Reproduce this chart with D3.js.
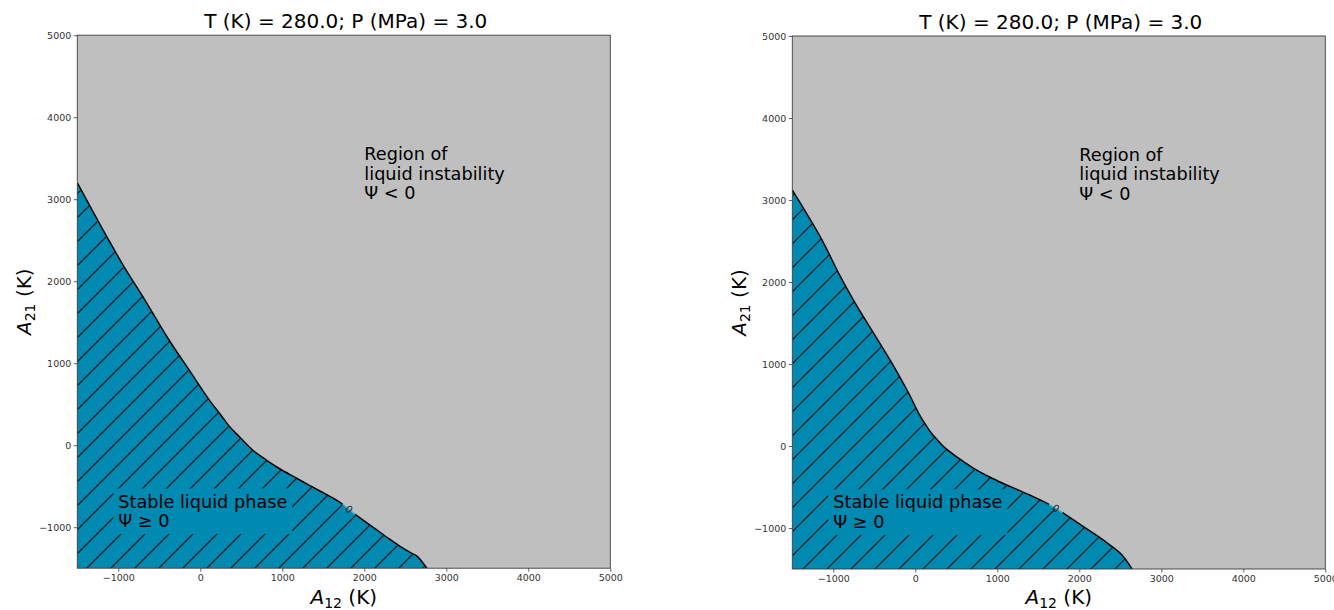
<!DOCTYPE html>
<html>
<head>
<meta charset="utf-8">
<script src="https://cdn.jsdelivr.net/npm/d3@7"></script>
<style>
  html, body { margin: 0; padding: 0; background: #fff; }
  svg { display: block; font-family: "DejaVu Sans", sans-serif; }
</style>
</head>
<body>
<svg id="chart" width="1334" height="610"></svg>
<script>
// Axis limits and ticks (K)
const xDomain = [-1500, 5000];
const yDomain = [-1500, 5000];
const xTicks = [-1000, 0, 1000, 2000, 3000, 4000, 5000];
const yTicks = [-1000, 0, 1000, 2000, 3000, 4000, 5000];

const titleText = "T (K) = 280.0; P (MPa) = 3.0";
const regionLines = ["Region of", "liquid instability", "Ψ < 0"];
const stableLines = ["Stable liquid phase", "Ψ ≥ 0"];
const regionAnchor = [2000, 3000];
const stableAnchor = [-1000, -1000];
const contourLevel = "0";

// Ψ = 0 boundary, left panel
const leftA12 = [-1500, -1300, -1150, -930, -700, -380, -135, 110, 250, 360, 445, 640, 800, 963, 1150, 1330, 1520, 1704, 1887, 2108, 2300, 2435, 2580, 2645, 2762];
const leftA21 = [3200, 2830, 2560, 2175, 1810, 1280, 915, 550, 368, 222, 135, -62, -178, -284, -390, -490, -592, -696, -842, -1001, -1140, -1233, -1318, -1355, -1500];
const leftLabelAt = [1830, -765];

// Ψ = 0 boundary, right panel
const rightA12 = [-1500, -1138, -935, -732, -508, -284, -81, 41, 101, 175, 244, 345, 500, 711, 930, 1159, 1400, 1606, 1809, 2000, 2174, 2350, 2520, 2642];
const rightA21 = [3120, 2512, 2106, 1740, 1374, 1008, 643, 399, 296, 185, 100, -8, -130, -272, -390, -496, -600, -699, -821, -950, -1065, -1190, -1329, -1500];
const rightLabelAt = [1716, -752];

const stableColor = "#0089b1";
const unstableColor = "#bfbfbf";

const svg = d3.select("#chart");
const defs = svg.append("defs");

const panels = [
  { a12: leftA12, a21: leftA21, labelAt: leftLabelAt, x0: 77.3, y0: 35.2, size: 533, phase: 7, ylabX: 31 },
  { a12: rightA12, a21: rightA21, labelAt: rightLabelAt, x0: 792.3, y0: 36, size: 533, phase: 4, ylabX: 746 }
];

const spineColor = "#3a3a3a";
const tickText = "#333";

panels.forEach((p, i) => {
  const x = d3.scaleLinear().domain(xDomain).range([p.x0, p.x0 + p.size]);
  const y = d3.scaleLinear().domain(yDomain).range([p.y0 + p.size, p.y0]);

  defs.append("clipPath").attr("id", "clip" + i)
    .append("rect")
    .attr("x", x(xDomain[0])).attr("y", y(yDomain[1]))
    .attr("width", x(xDomain[1]) - x(xDomain[0]))
    .attr("height", y(yDomain[0]) - y(yDomain[1]));

  // diagonal '/' hatch
  const pat = defs.append("pattern").attr("id", "hatch" + i)
    .attr("patternUnits", "userSpaceOnUse")
    .attr("width", 24).attr("height", 24)
    .attr("patternTransform", `translate(${p.phase},0)`);
  pat.append("path")
    .attr("d", "M-1,25 L25,-1 M-1,1 L1,-1 M23,25 L25,23")
    .attr("stroke", "#0d0d0d").attr("stroke-width", 1.1).attr("fill", "none");

  const g = svg.append("g").attr("clip-path", `url(#clip${i})`);

  // unstable background
  g.append("rect")
    .attr("x", x(xDomain[0])).attr("y", y(yDomain[1]))
    .attr("width", x(xDomain[1]) - x(xDomain[0]))
    .attr("height", y(yDomain[0]) - y(yDomain[1]))
    .attr("fill", unstableColor);

  const pts = p.a12.map((v, k) => [v, p.a21[k]]);
  const line = d3.line().x(d => x(d[0])).y(d => y(d[1])).curve(d3.curveCatmullRom.alpha(0.5));
  const regionPath = line(pts) + `L${x(xDomain[0])},${y(yDomain[0])}Z`;

  g.append("path").attr("d", regionPath).attr("fill", stableColor);
  g.append("path").attr("d", regionPath).attr("fill", `url(#hatch${i})`);

  // stable-phase annotation with a box in the fill colour
  const stable = g.append("g");
  const sx = x(stableAnchor[0]), sy = y(stableAnchor[1]);
  const lh = 19.7;
  const stxt = stable.append("text")
    .attr("font-size", 17.7).attr("fill", "#000");
  stableLines.forEach((s, k) => {
    stxt.append("tspan").attr("x", sx).attr("y", sy - (stableLines.length - 1 - k) * lh).text(s);
  });
  const bb = stxt.node().getBBox();
  stable.insert("rect", "text")
    .attr("x", bb.x - 5).attr("y", bb.y - 3)
    .attr("width", bb.width + 10).attr("height", bb.height + 6)
    .attr("fill", stableColor);

  // contour line with an inline level label
  g.append("path").attr("d", line(pts))
    .attr("fill", "none").attr("stroke", "#49b3cc").attr("stroke-width", 1.4);
  const cl = g.append("path").attr("d", line(pts))
    .attr("fill", "none").attr("stroke", "#000").attr("stroke-width", 1.5);
  const node = cl.node();
  const total = node.getTotalLength();
  const lx = x(p.labelAt[0]), ly = y(p.labelAt[1]);
  let best = 0, bestD = Infinity;
  for (let s = 0; s <= total; s += 0.5) {
    const q = node.getPointAtLength(s);
    const d = (q.x - lx) ** 2 + (q.y - ly) ** 2;
    if (d < bestD) { bestD = d; best = s; }
  }
  const gap = 16;
  cl.attr("stroke-dasharray", `${best - gap / 2} ${gap} ${total}`);
  const qa = node.getPointAtLength(best - 4), qb = node.getPointAtLength(best + 4), qc = node.getPointAtLength(best);
  const ang = Math.atan2(qb.y - qa.y, qb.x - qa.x) * 180 / Math.PI;
  g.append("text")
    .attr("transform", `translate(${qc.x},${qc.y}) rotate(${ang})`)
    .attr("text-anchor", "middle").attr("dy", "0.36em")
    .attr("font-size", 10).attr("fill", "#222")
    .text(contourLevel);

  // instability annotation
  const rx = x(regionAnchor[0]), ry = y(regionAnchor[1]);
  const rtxt = svg.append("text").attr("font-size", 17.7).attr("fill", "#000");
  regionLines.forEach((s, k) => {
    rtxt.append("tspan").attr("x", rx).attr("y", ry - (regionLines.length - 1 - k) * lh).text(s);
  });

  // axes
  const fmt = d3.format("d");
  const ax = svg.append("g").attr("transform", `translate(0,${y(yDomain[0])})`)
    .call(d3.axisBottom(x).tickValues(xTicks).tickSize(3.5).tickPadding(2.5).tickFormat(fmt));
  const ay = svg.append("g").attr("transform", `translate(${x(xDomain[0])},0)`)
    .call(d3.axisLeft(y).tickValues(yTicks).tickSize(3.5).tickPadding(2.5).tickFormat(fmt));
  [ax, ay].forEach(a => {
    a.select(".domain").remove();
    a.selectAll(".tick line").attr("stroke", spineColor).attr("stroke-width", 0.8);
    a.selectAll(".tick text").attr("font-size", 9.5).attr("fill", tickText)
      .attr("font-family", "DejaVu Sans, sans-serif");
  });

  // spines
  svg.append("rect")
    .attr("x", x(xDomain[0])).attr("y", y(yDomain[1]))
    .attr("width", x(xDomain[1]) - x(xDomain[0]))
    .attr("height", y(yDomain[0]) - y(yDomain[1]))
    .attr("fill", "none").attr("stroke", spineColor).attr("stroke-width", 0.9);

  // title
  svg.append("text")
    .attr("x", (x(xDomain[0]) + x(xDomain[1])) / 2 + 2).attr("y", y(yDomain[1]) - 7)
    .attr("text-anchor", "middle").attr("font-size", 20).attr("fill", "#000")
    .text(titleText);

  // axis labels: A12 (K), A21 (K)
  const xl = svg.append("text")
    .attr("x", (x(xDomain[0]) + x(xDomain[1])) / 2).attr("y", 604)
    .attr("text-anchor", "middle").attr("font-size", 20).attr("fill", "#000");
  xl.append("tspan").attr("font-style", "italic").text("A");
  xl.append("tspan").attr("font-size", 14).attr("dy", 4).text("12");
  xl.append("tspan").attr("dy", -4).text(" (K)");

  const yl = svg.append("text")
    .attr("transform", `translate(${p.ylabX},${(y(yDomain[0]) + y(yDomain[1])) / 2}) rotate(-90)`)
    .attr("text-anchor", "middle").attr("font-size", 20).attr("fill", "#000");
  yl.append("tspan").attr("font-style", "italic").text("A");
  yl.append("tspan").attr("font-size", 14).attr("dy", 4).text("21");
  yl.append("tspan").attr("dy", -4).text(" (K)");
});
</script>
</body>
</html>
